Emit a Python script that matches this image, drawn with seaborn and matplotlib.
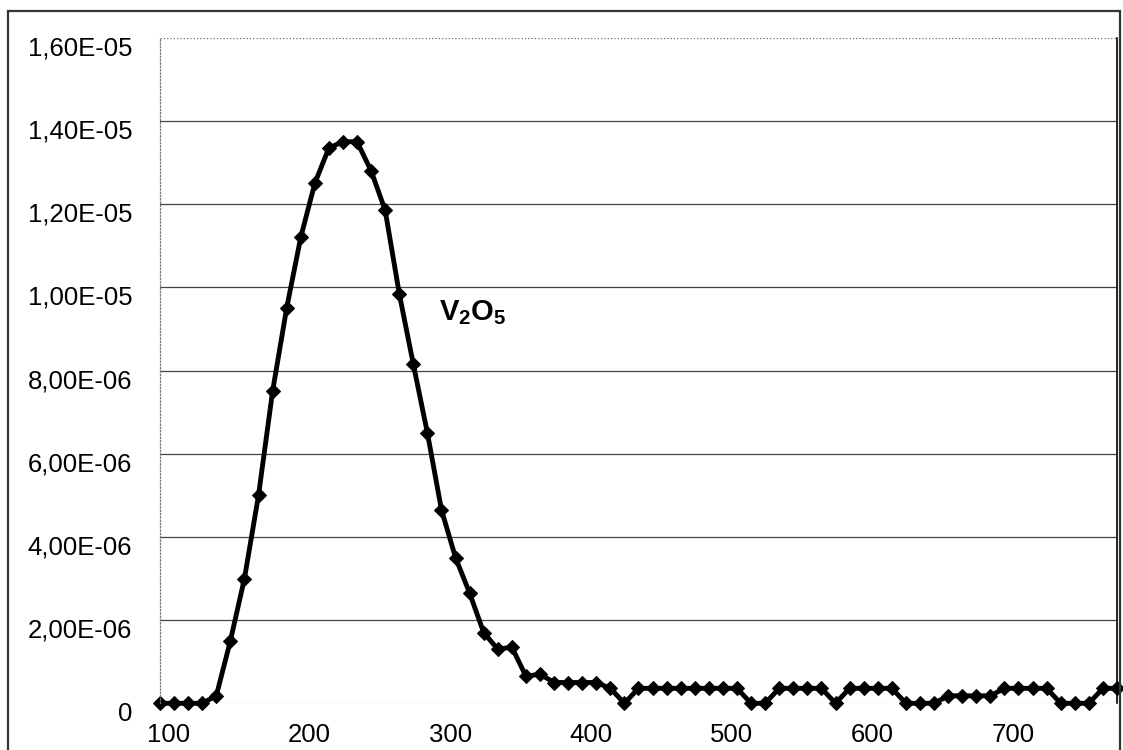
import matplotlib
matplotlib.use("Agg")
import matplotlib.pyplot as plt
import matplotlib.transforms as mtransforms
from matplotlib.ticker import FuncFormatter, FixedLocator
from matplotlib.patches import Rectangle
import seaborn as sns
import pandas as pd

# ---- data ----
temperature = [100, 110, 120, 130, 140, 150, 160, 170, 180, 190,
               200, 210, 220, 230, 240, 250, 260, 270, 280, 290,
               300, 310, 320, 330, 340, 350, 360, 370, 380, 390,
               400, 410, 420, 430, 440, 450, 460, 470, 480, 490,
               500, 510, 520, 530, 540, 550, 560, 570, 580, 590,
               600, 610, 620, 630, 640, 650, 660, 670, 680, 690,
               700, 710, 720, 730, 740, 750, 760, 770, 780]
signal_e6 = [0, 0, 0, 0, 0.18, 1.5, 3.0, 5.0, 7.5, 9.5,
             11.2, 12.5, 13.35, 13.5, 13.5, 12.8, 11.85, 9.85, 8.15, 6.5,
             4.65, 3.5, 2.65, 1.7, 1.3, 1.35, 0.65, 0.7, 0.5, 0.5,
             0.5, 0.5, 0.36, 0, 0.36, 0.36, 0.36, 0.36, 0.36, 0.36,
             0.36, 0.36, 0, 0, 0.36, 0.36, 0.36, 0.36, 0, 0.36,
             0.36, 0.36, 0.36, 0, 0, 0, 0.18, 0.18, 0.18, 0.18,
             0.36, 0.36, 0.36, 0.36, 0, 0, 0, 0.36, 0.36]
x_ticks = [100, 200, 300, 400, 500, 600, 700]
y_ticks = [0, 2e-6, 4e-6, 6e-6, 8e-6, 1e-5, 1.2e-5, 1.4e-5, 1.6e-5]
label_text = r"$\mathbf{V_2O_5}$"

df = pd.DataFrame({"T": temperature, "S": [v * 1e-6 for v in signal_e6]})

sns.set_style("white")
plt.rcParams["font.family"] = ["Liberation Sans", "DejaVu Sans"]
plt.rcParams["mathtext.fontset"] = "custom"
plt.rcParams["mathtext.bf"] = "Liberation Sans:bold"
plt.rcParams["mathtext.rm"] = "Liberation Sans"

W, H = 1123, 750
fig = plt.figure(figsize=(W / 100, H / 100), dpi=100)
ax = fig.add_axes([160 / W, (H - 703.3) / H, (1117 - 160) / W, (703.3 - 37.7) / H])

sns.lineplot(data=df, x="T", y="S", ax=ax, color="black", linewidth=3.5,
             marker="D", markersize=6.8, markeredgecolor="black",
             markerfacecolor="black", clip_on=False)

ax.set_xlim(100, 780)
ax.set_ylim(0, 1.6e-5)
ax.xaxis.set_major_locator(FixedLocator(x_ticks))
ax.yaxis.set_major_locator(FixedLocator(y_ticks))


def yfmt(v, pos):
    if v == 0:
        return "0"
    return f"{v:.2E}".replace(".", ",")


ax.yaxis.set_major_formatter(FuncFormatter(yfmt))
ax.set_xlabel("")
ax.set_ylabel("")
ax.tick_params(axis="both", length=0, labelsize=18.5, colors="black")
ax.tick_params(axis="y", pad=20)
ax.tick_params(axis="x", pad=14.5)

# offsets of labels as in the reference
for lab in ax.get_xticklabels():
    lab.set_transform(lab.get_transform() + mtransforms.ScaledTranslation(0.09, 0, fig.dpi_scale_trans))
for lab in ax.get_yticklabels():
    lab.set_transform(lab.get_transform() + mtransforms.ScaledTranslation(0, -0.08, fig.dpi_scale_trans))

ax.yaxis.grid(True, color="#444444", linewidth=0.9, linestyle="-")
ax.xaxis.grid(False)
gl = ax.get_ygridlines()
gl[0].set_linestyle(":")
gl[-1].set_linestyle(":")
gl[0].set_color("#666666")
gl[-1].set_color("#666666")
ax.set_axisbelow(True)

for side in ("left", "top", "bottom"):
    ax.spines[side].set_linestyle(":")
    ax.spines[side].set_color("#777777")
    ax.spines[side].set_linewidth(0.9)
ax.spines["top"].set_visible(False)
ax.spines["bottom"].set_visible(False)
ax.spines["right"].set_color("black")
ax.spines["right"].set_linewidth(1.2)

ax.text(298.5, 9.2e-6, label_text, fontsize=21, color="black",
        ha="left", va="baseline")

# outer frame of the figure
frame = Rectangle((8 / W, -0.02), (1120 - 8) / W, (H - 11) / H + 0.02,
                  transform=fig.transFigure, fill=False,
                  edgecolor="#333333", linewidth=1.6)
fig.patches.append(frame)

fig.savefig("out.png", dpi=100)
